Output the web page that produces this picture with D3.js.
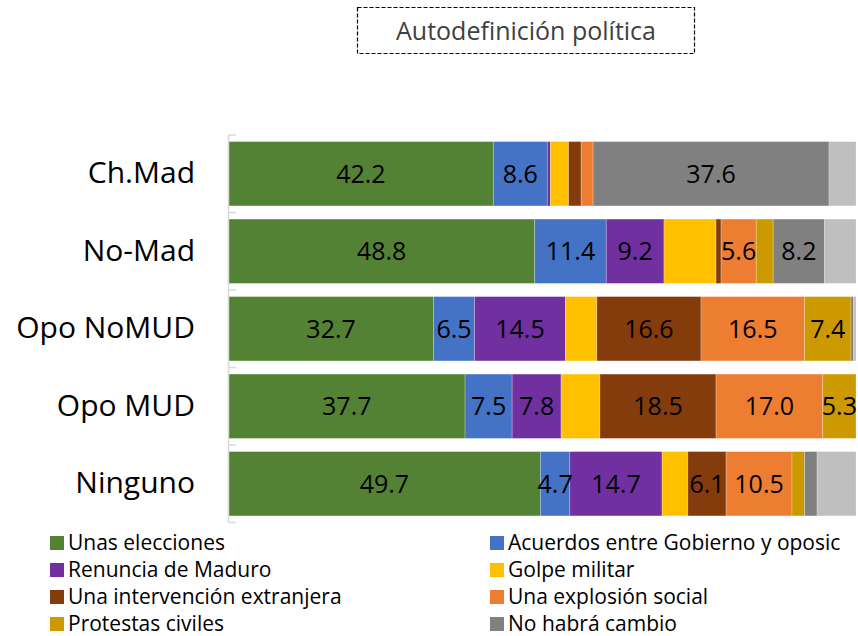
<!DOCTYPE html>
<html>
<head>
<meta charset="utf-8">
<script src="https://cdn.jsdelivr.net/npm/d3@7"></script>
<style>
  body { margin: 0; background: #fff; }
  svg text { font-family: "Open Sans", sans-serif; }
</style>
</head>
<body>
<script>
"use strict";

var width = 858,
    height = 636;

// categories (rows, top to bottom)
const categories = ["Ch.Mad", "No-Mad", "Opo NoMUD", "Opo MUD", "Ninguno"];

// series names, in stacking order
const seriesNames = [
    "Unas elecciones",
    "Acuerdos entre Gobierno y oposic",
    "Renuncia de Maduro",
    "Golpe militar",
    "Una intervención extranjera",
    "Una explosión social",
    "Protestas civiles",
    "No habrá cambio",
    "NS/NC"
];

const seriesColors = ["#548235", "#4472C4", "#7030A0", "#FFC000", "#843C0C",
                      "#ED7D31", "#CC9900", "#808080", "#BFBFBF"];

// values per series, one per category
const elecciones  = [42.2, 48.8, 32.7, 37.7, 49.7];
const acuerdos    = [8.6, 11.4, 6.5, 7.5, 4.7];
const renuncia    = [0.5, 9.2, 14.5, 7.8, 14.7];
const golpe       = [2.9, 8.3, 5.0, 6.2, 4.1];
const intervencion = [2.0, 0.8, 16.6, 18.5, 6.1];
const explosion   = [1.9, 5.6, 16.5, 17.0, 10.5];
const protestas   = [0.0, 2.7, 7.4, 5.3, 2.0];
const sinCambio   = [37.6, 8.2, 0.4, 0.0, 2.0];
const nsnc        = [4.3, 5.0, 0.4, 0.0, 6.2];

const seriesValues = [elecciones, acuerdos, renuncia, golpe, intervencion,
                      explosion, protestas, sinCambio, nsnc];

// which series carry data labels (in the original, small ones and yellow/NS-NC are unlabeled)
const labeledSeries = [true, true, true, false, true, true, true, true, false];

window.onload = function () {
    const svg = d3.select("body")
        .append("svg")
        .attr("width", width)
        .attr("height", height);

    // title in dashed box
    const title = svg.append("g").attr("id", "title");
    title.append("rect")
        .attr("x", 357.5).attr("y", 7.5)
        .attr("width", 337).attr("height", 46)
        .attr("fill", "none")
        .attr("stroke", "#000")
        .attr("stroke-width", 1.2)
        .attr("stroke-dasharray", "4,2");
    title.append("text")
        .attr("x", 526).attr("y", 40)
        .attr("text-anchor", "middle")
        .attr("font-size", 25)
        .attr("fill", "#404040")
        .text("Autodefinición política");

    const table = categories.map(function (c, i) {
        const row = { cat: c };
        seriesNames.forEach(function (s, j) { row[s] = seriesValues[j][i]; });
        return row;
    });

    const stack = d3.stack().keys(seriesNames);
    const layers = stack(table);

    const x = d3.scaleLinear().domain([0, 100]).range([228.5, 856]);
    const y = d3.scaleBand()
        .domain(categories)
        .range([135, 522.5])
        .paddingInner(0.17)
        .paddingOuter(0.085);

    // bars
    const bars = svg.append("g").attr("id", "bars");
    layers.forEach(function (layer, j) {
        bars.append("g")
            .attr("fill", seriesColors[j])
            .selectAll("rect")
            .data(layer)
            .enter()
            .append("rect")
            .attr("x", d => x(d[0]))
            .attr("y", d => y(d.data.cat))
            .attr("width", d => x(d[1]) - x(d[0]))
            .attr("height", y.bandwidth())
            .attr("stroke", "#fff")
            .attr("stroke-opacity", 0.35)
            .attr("stroke-width", 0.7);
    });

    // data labels
    const labels = svg.append("g").attr("id", "labels");
    layers.forEach(function (layer, j) {
        if (!labeledSeries[j]) return;
        labels.selectAll(null)
            .data(layer.filter(d => (d[1] - d[0]) >= 4.5))
            .enter()
            .append("text")
            .attr("x", d => x((d[0] + d[1]) / 2))
            .attr("y", d => y(d.data.cat) + y.bandwidth() / 2)
            .attr("dy", "0.35em")
            .attr("text-anchor", "middle")
            .attr("font-size", 25)
            .attr("fill", "#000")
            .text(d => (d[1] - d[0]).toFixed(1));
    });

    // category axis
    const step = y.step();
    const bounds = categories.map(c => y(c) - step * y.paddingInner() / 2);
    bounds.push(y(categories[categories.length - 1]) + y.bandwidth() + step * y.paddingInner() / 2);

    const axis = svg.append("g").attr("id", "yaxis");
    axis.append("line")
        .attr("x1", 228.5).attr("x2", 228.5)
        .attr("y1", bounds[0]).attr("y2", bounds[bounds.length - 1])
        .attr("stroke", "#d9d9d9")
        .attr("stroke-width", 1.5);
    axis.selectAll(".tk")
        .data(bounds)
        .enter()
        .append("line")
        .attr("x1", 228.5).attr("x2", 236)
        .attr("y1", d => d).attr("y2", d => d)
        .attr("stroke", "#d9d9d9")
        .attr("stroke-width", 1.5);

    const yAxis = svg.append("g")
        .attr("transform", "translate(195,0)")
        .call(d3.axisLeft(y).tickSize(0).tickPadding(0));
    yAxis.select(".domain").remove();
    yAxis.selectAll("text")
        .attr("font-family", "Open Sans, sans-serif")
        .attr("font-size", 30)
        .attr("fill", "#000");

    // legend (NS/NC not shown)
    const legend = svg.append("g").attr("id", "legend");
    const legendItems = seriesNames.slice(0, 8);
    legend.selectAll("g")
        .data(legendItems)
        .enter()
        .append("g")
        .attr("transform", function (d, i) {
            const col = i % 2, row = Math.floor(i / 2);
            return "translate(" + (col === 0 ? 50 : 490) + "," + (543 + row * 27) + ")";
        })
        .each(function (d, i) {
            const g = d3.select(this);
            g.append("rect")
                .attr("x", 0).attr("y", -7)
                .attr("width", 14).attr("height", 14)
                .attr("fill", seriesColors[i]);
            g.append("text")
                .attr("x", 18).attr("y", 0)
                .attr("dy", "0.35em")
                .attr("font-size", 21)
                .attr("fill", "#000")
                .text(d);
        });
};
</script>
</body>
</html>
